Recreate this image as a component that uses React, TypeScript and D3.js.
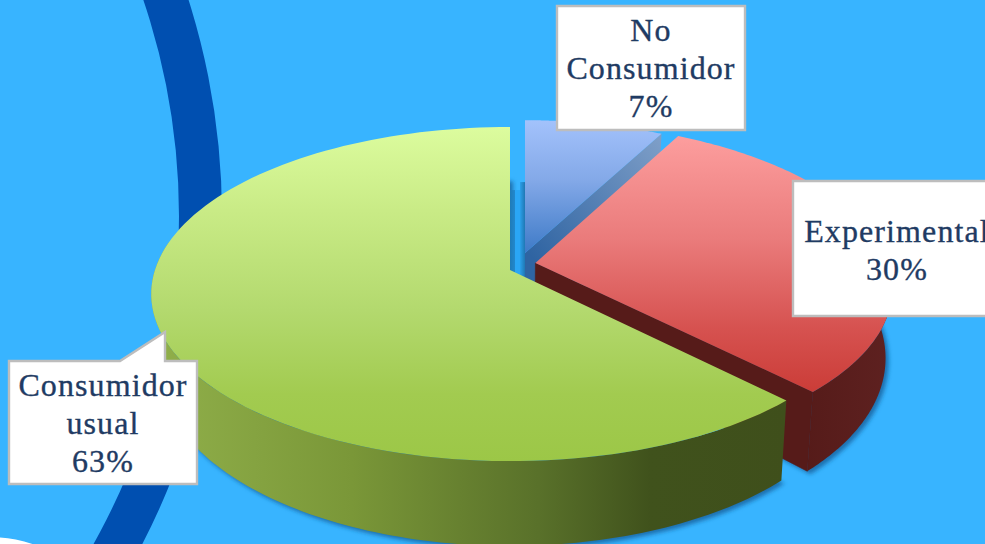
import React from "react";
import * as d3 from "d3";

const categories = ["No Consumidor", "Experimental", "Consumidor usual"];
const values = [7.7, 30.0, 62.3];
const percentLabels = ["7%", "30%", "63%"];
const explodeU = [0.043, 0.072, 0];
const explodeV = [-0.105, -0.043, 0];
const radii = [0.95, 1, 1];
const startPad = [0.006, 0, 0];
const topStops = [
  [["0", "#a4c3fc"], ["0.45", "#84a9e8"], ["1", "#3c79c6"]],
  [["0", "#fc9d9d"], ["0.4", "#ea7b7b"], ["0.75", "#d65250"], ["1", "#cb3d38"]],
  [["0", "#dcfc9e"], ["0.25", "#c9eb86"], ["0.55", "#b3d96e"], ["0.8", "#a2cb50"], ["1", "#9cc747"]],
];

const W = 985, H = 544;
const X0 = 510, Y0 = 270, Rx = 355, Ry = 163.6, K = 0.144, DEPTH = 80, SHRINK = 0.982;
const RED_WALL_FROM = (75 * Math.PI) / 180;
const GREEN_WALL_TO = (280 * Math.PI) / 180;

const sx = d3.scaleLinear().domain([0, 1]).range([X0, X0 + Rx]);
const sy = d3.scaleLinear().domain([0, 1]).range([Y0, Y0 + Ry]);
const pieGen = d3.pie<number>().sort(null).value((d) => d);
const arcs = pieGen(values);
const toPath = d3.line<[number, number]>().x((d) => d[0]).y((d) => d[1]);

function project(a: number, r: number, i: number, bottom: boolean): [number, number] {
  const rr = r * radii[i];
  const u = rr * Math.sin(a) + explodeU[i];
  const v = -rr * Math.cos(a) + explodeV[i];
  const w = 1 / (1 - K * v);
  const x = sx(u * w);
  const y = sy(v * w);
  const depth = DEPTH * (0.85 + 0.21 * v);
  return bottom ? [X0 + (x - X0) * SHRINK, y + depth] : [x, y];
}
const angles = (a0: number, a1: number) => d3.range(0, 121).map((t) => a0 + ((a1 - a0) * t) / 120);
const topPath = (i: number) => {
  const s = arcs[i];
  return toPath([project(0, 0, i, false), ...angles(s.startAngle + startPad[i], s.endAngle).map((a) => project(a, 1, i, false))])! + "Z";
};
const outerWall = (i: number, a0: number, a1: number) => {
  const as = angles(a0, a1);
  return toPath([...as.map((a) => project(a, 1, i, false)), ...as.slice().reverse().map((a) => project(a, 1, i, true))])! + "Z";
};
const cutWall = (i: number, a: number) =>
  toPath([project(0, 0, i, false), project(a, 1, i, false), project(a, 1, i, true), project(0, 0, i, true)])! + "Z";
const silhouette = (i: number) => {
  const s = arcs[i];
  return toPath([project(0, 0, i, true), ...angles(s.startAngle, s.endAngle).map((a) => project(a, 1, i, true))])! + "Z";
};

const ringArc = d3.arc()({ innerRadius: 672, outerRadius: 715, startAngle: 0, endAngle: 2 * Math.PI })!;
const whiteArc = d3.arc()({ innerRadius: 0, outerRadius: 132, startAngle: 0, endAngle: 2 * Math.PI })!;

const FONT = "'Liberation Serif', serif";
const TEXT = "#1f3b63";

function Box({ x, y, w, h, extra }: { x: number; y: number; w: number; h: number; extra?: string }) {
  const d = extra ?? `M${x},${y}H${x + w}V${y + h}H${x}Z`;
  return <path d={d} fill="#fff" stroke="#bdbdbd" strokeWidth={2.4} />;
}
function Lines({ cx, lines, first }: { cx: number; lines: string[]; first: number }) {
  return (
    <text textAnchor="middle" fontFamily={FONT} fontSize={32} fill={TEXT} stroke={TEXT} strokeWidth={0.35} letterSpacing={1.1}>
      {lines.map((l, i) => (
        <tspan key={i} x={cx} y={first + i * 38}>{l}</tspan>
      ))}
    </text>
  );
}

export default function App() {
  const [blue, red, green] = [0, 1, 2];
  const blueApex = project(0, 0, blue, false);
  const greenApex = project(0, 0, green, false);
  const stripTop = blueApex[1] - 71;
  return (
    <svg width={W} height={H} style={{ position: "fixed", left: 0, top: 0, display: "block" }}>
      <defs>
        {topStops.map((stops, i) => (
          <linearGradient key={i} id={`top${i}`} gradientUnits="userSpaceOnUse" x1="0" x2="0"
            y1={[118, 138, 127][i]} y2={[255, 391, 461][i]}>
            {stops.map((s) => <stop key={s[0]} offset={s[0]} stopColor={s[1]} />)}
          </linearGradient>
        ))}
        <linearGradient id="greenWall" gradientUnits="userSpaceOnUse" x1="165" x2="787" y1="0" y2="0">
          <stop offset="0" stopColor="#8fae49" />
          <stop offset="0.3" stopColor="#7a9738" />
          <stop offset="0.6" stopColor="#59712a" />
          <stop offset="0.78" stopColor="#40521c" />
          <stop offset="1" stopColor="#3f4f1b" />
        </linearGradient>
        <linearGradient id="redWall" gradientUnits="userSpaceOnUse" x1="790" x2="890" y1="0" y2="0">
          <stop offset="0" stopColor="#541a18" />
          <stop offset="1" stopColor="#5e2120" />
        </linearGradient>
        <linearGradient id="blueCut" gradientUnits="userSpaceOnUse" x1="530" x2="660" y1="255" y2="135">
          <stop offset="0" stopColor="#2f64a2" />
          <stop offset="1" stopColor="#7f9fc8" />
        </linearGradient>
        <linearGradient id="stripA" x1="0" x2="1" y1="0" y2="0">
          <stop offset="0" stopColor="#1d76b0" />
          <stop offset="1" stopColor="#2288cc" />
        </linearGradient>
        <linearGradient id="stripB" x1="0" x2="1" y1="0" y2="0">
          <stop offset="0" stopColor="#2a9fe8" />
          <stop offset="1" stopColor="#1f78b4" />
        </linearGradient>
        <filter id="blur" x="-10%" y="-10%" width="120%" height="120%">
          <feGaussianBlur stdDeviation="2.2" />
        </filter>
      </defs>
      <rect width={W} height={H} fill="#38b4ff" />
      <path d={ringArc} transform="translate(-493,216)" fill="#004fb0" />
      <path d={whiteArc} transform="translate(-10,669)" fill="#fff" />

      <g filter="url(#blur)" fill="#1b6fae" transform="translate(3,3)">
        {[red, green].map((i) => <path key={i} d={silhouette(i)} />)}
      </g>

      <rect x={greenApex[0] - 2} y={stripTop + 8} width={7} height={greenApex[1] - stripTop - 6} fill="url(#stripA)" />
      <rect x={greenApex[0] + 5} y={stripTop + 8} width={5} height={greenApex[1] - stripTop + 6} fill="#2aa6f5" />
      <rect x={blueApex[0] - 5} y={stripTop} width={5} height={blueApex[1] + 25 - stripTop} fill="url(#stripB)" />

      <path d={cutWall(blue, arcs[blue].endAngle)} fill="url(#blueCut)" />
      <path d={topPath(blue)} fill="url(#top0)" />

      <path d={outerWall(red, RED_WALL_FROM, arcs[red].endAngle)} fill="url(#redWall)" />
      <path d={cutWall(red, arcs[red].endAngle)} fill="#561b19" stroke="#561b19" strokeWidth={0.6} />
      <path d={topPath(red)} fill="url(#top1)" />

      <path d={outerWall(green, arcs[green].startAngle, GREEN_WALL_TO)} fill="url(#greenWall)" />
      <path d={topPath(green)} fill="url(#top2)" />

      <Box x={557} y={6} w={188} h={124} />
      <Lines cx={651} lines={["No", categories[0].split(" ")[1], percentLabels[0]]} first={41} />

      <Box x={793} y={181} w={200} h={135} />
      <Lines cx={897} lines={[categories[1], percentLabels[1]]} first={242} />

      <Box x={9} y={361} w={188} h={123} extra="M9,361H120L165,332V361H197V484H9Z" />
      <Lines cx={103} lines={[categories[2].split(" ")[0], categories[2].split(" ")[1], percentLabels[2]]} first={396} />
    </svg>
  );
}
